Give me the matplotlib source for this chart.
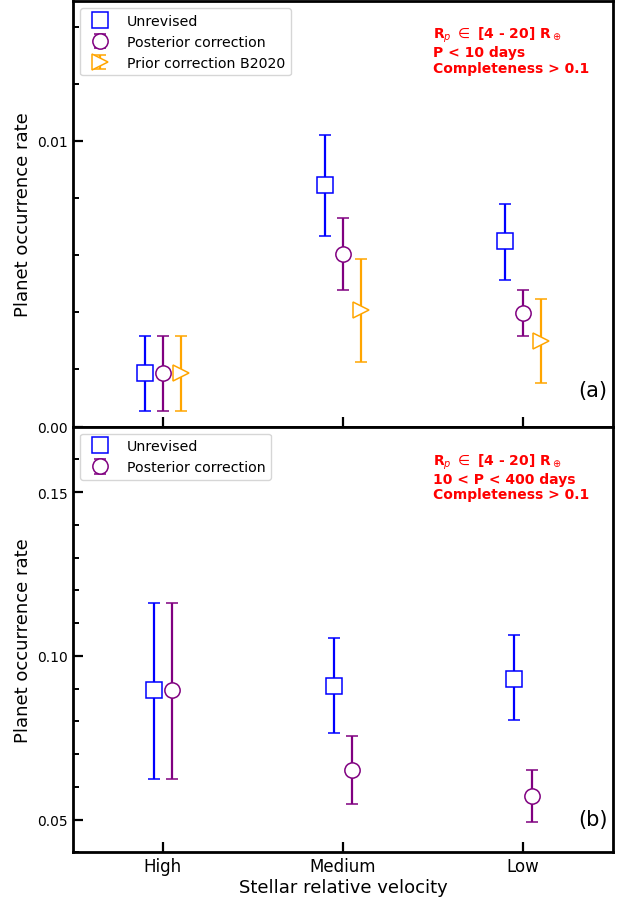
import numpy as np
import matplotlib
matplotlib.use('Agg')
from matplotlib import pyplot as plt
from matplotlib.ticker import MultipleLocator, FormatStrFormatter

categories = ['High', 'Medium', 'Low']

# panel (a): P < 10 days
unrev_a = [0.00186, 0.00846, 0.00649]
unrev_a_lo = [0.00056, 0.00667, 0.00512]
unrev_a_hi = [0.00316, 0.01021, 0.00779]
post_a = [0.00186, 0.00604, 0.00396]
post_a_lo = [0.00056, 0.00477, 0.00316]
post_a_hi = [0.00316, 0.00730, 0.00477]
prior_a = [0.00186, 0.00407, 0.00298]
prior_a_lo = [0.00056, 0.00225, 0.00151]
prior_a_hi = [0.00316, 0.00586, 0.00446]

# panel (b): 10 < P < 400 days
unrev_b = [0.0897, 0.0909, 0.0930]
unrev_b_lo = [0.0624, 0.0764, 0.0803]
unrev_b_hi = [0.1160, 0.1055, 0.1064]
post_b = [0.0897, 0.0652, 0.0573]
post_b_lo = [0.0624, 0.0548, 0.0494]
post_b_hi = [0.1160, 0.0755, 0.0652]

x = np.arange(len(categories))

def errs(v, lo, hi):
    v = np.array(v); lo = np.array(lo); hi = np.array(hi)
    return [v - lo, hi - v]

kw = dict(ls='none', markersize=11, markerfacecolor='white', markeredgewidth=1.1,
          elinewidth=1.6, capsize=4.5, capthick=1.6)

fig, (ax1, ax2) = plt.subplots(2, 1, figsize=(6.28, 9.03), dpi=100, sharex=True)
fig.subplots_adjust(left=0.116, right=0.976, top=0.998, bottom=0.055, hspace=0)

ax1.errorbar(x - 0.1, unrev_a, yerr=errs(unrev_a, unrev_a_lo, unrev_a_hi), marker='s',
             color='blue', markeredgecolor='blue', label='Unrevised', **kw)
ax1.errorbar(x, post_a, yerr=errs(post_a, post_a_lo, post_a_hi), marker='o',
             color='purple', markeredgecolor='purple', label='Posterior correction', **kw)
ax1.errorbar(x + 0.1, prior_a, yerr=errs(prior_a, prior_a_lo, prior_a_hi), marker='>',
             color='orange', markeredgecolor='orange', label='Prior correction B2020', **kw)

ax2.errorbar(x - 0.05, unrev_b, yerr=errs(unrev_b, unrev_b_lo, unrev_b_hi), marker='s',
             color='blue', markeredgecolor='blue', label='Unrevised', **kw)
ax2.errorbar(x + 0.05, post_b, yerr=errs(post_b, post_b_lo, post_b_hi), marker='o',
             color='purple', markeredgecolor='purple', label='Posterior correction', **kw)

ax1.set_ylim(0, 0.0149)
ax1.yaxis.set_major_locator(MultipleLocator(0.01))
ax1.yaxis.set_minor_locator(MultipleLocator(0.002))
ax2.set_ylim(0.04, 0.17)
ax2.yaxis.set_major_locator(MultipleLocator(0.05))
ax2.yaxis.set_minor_locator(MultipleLocator(0.01))
ax1.yaxis.set_major_formatter(FormatStrFormatter('%.2f'))
ax2.yaxis.set_major_formatter(FormatStrFormatter('%.2f'))

ax2.set_xlim(-0.5, 2.5)
ax2.set_xticks(x)
ax2.set_xticklabels(categories, fontsize=12)
ax2.set_xlabel('Stellar relative velocity', fontsize=13, labelpad=2)

for ax in (ax1, ax2):
    for s in ax.spines.values():
        s.set_linewidth(2)
    ax.tick_params(which='major', direction='in', length=7.5, width=1.6, labelsize=10)
    ax.tick_params(which='minor', direction='in', length=4, width=1.4)
    ax.tick_params(axis='x', which='major', labelsize=12)
    ax.set_ylabel('Planet occurrence rate', fontsize=13)
    ax.legend(loc='upper left', fontsize=10.2, borderpad=0.4, handletextpad=0.9,
              labelspacing=0.5, handlelength=2)

ax1.text(0.667, 0.943, 'R$_p$ $\\in$ [4 - 20] R$_\\oplus$\nP < 10 days\nCompleteness > 0.1',
         transform=ax1.transAxes, color='red', fontweight='bold', fontsize=10,
         va='top', ha='left', linespacing=1.1)
ax2.text(0.667, 0.942, 'R$_p$ $\\in$ [4 - 20] R$_\\oplus$\n10 < P < 400 days\nCompleteness > 0.1',
         transform=ax2.transAxes, color='red', fontweight='bold', fontsize=10,
         va='top', ha='left', linespacing=1.1)

ax1.text(0.99, 0.085, '(a)', transform=ax1.transAxes, fontsize=15, ha='right', va='center')
ax2.text(0.99, 0.078, '(b)', transform=ax2.transAxes, fontsize=15, ha='right', va='center')

plt.savefig('out.png', dpi=100)
